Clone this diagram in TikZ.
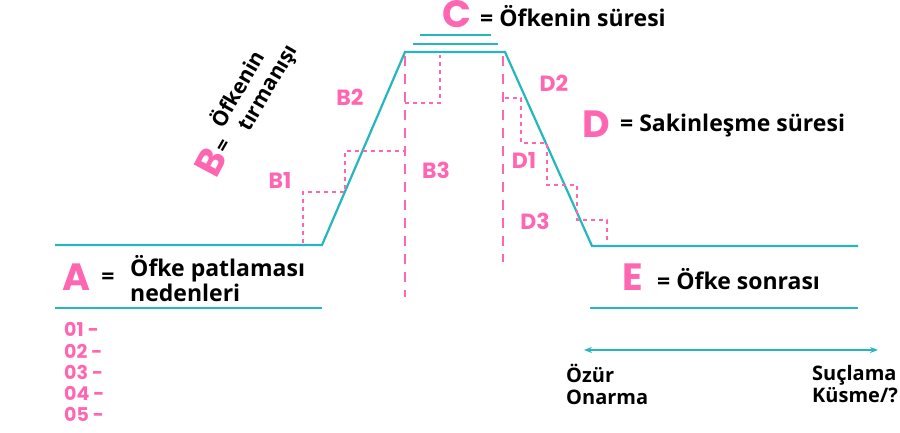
\documentclass[tikz,border=0pt]{standalone}
\usepackage{fontspec}
\setmainfont{Open Sans}
\newfontfamily\popfont[Numbers=OldStyle]{Poppins}
\usetikzlibrary{arrows.meta,positioning,calc}
\definecolor{teal}{RGB}{38,182,190}
\definecolor{hotpink}{RGB}{255,102,178}
\begin{document}
\begin{tikzpicture}[x=1pt,y=-1pt,
    curve/.style={draw=teal, line width=2.2pt},
    guide/.style={draw=hotpink, line width=2pt, dash pattern=on 10pt off 8pt},
    stair/.style={draw=hotpink, line width=2.2pt, dash pattern=on 4pt off 4pt},
    big/.style={text=hotpink, font=\popfont\bfseries\fontsize{38}{38}\selectfont, inner sep=0pt},
    tag/.style={text=hotpink, font=\popfont\bfseries\fontsize{22}{22}\selectfont, inner sep=0pt},
    txt/.style={font=\bfseries\fontsize{23}{25}\selectfont, inner sep=0pt, align=left},
    slant/.style={font=\bfseries\fontsize{21}{21}\selectfont, inner sep=0pt, rotate=60},
    low/.style={font=\bfseries\fontsize{20}{22}\selectfont, inner sep=0pt, align=left},
    num/.style={text=hotpink, font=\popfont\bfseries\fontsize{19}{19}\selectfont, inner sep=0pt, anchor=west}
]
\useasboundingbox (0,0) rectangle (900,432);

% curve of anger
\coordinate (s0) at (55,245);
\coordinate (s1) at (322,245);
\coordinate (s2) at (405,52);
\coordinate (s3) at (505,52);
\coordinate (s4) at (592,246);
\coordinate (s5) at (858,246);
\draw[curve] (s0) -- (s1) -- (s2) -- (s3) -- (s4) -- (s5);
\draw[curve] (420,35) -- (491,35);
\draw[curve] (413,44) -- (498,44);
\draw[curve] (55,308) -- (322,308);
\draw[curve] (590,308) -- (858,308);

% guides
\coordinate (g1) at (405,297);
\coordinate (g2) at (503,262);
\draw[guide] (405,56) -- (g1);
\draw[guide] (503,56) -- (g2);

% escalation steps
\draw[stair] (303,243) |- (345,192) |- (405,151);
\draw[stair] (405,103) -| (440,55);
% calming steps
\draw[stair] (505,98) -| (521,143) -| (547,185) -| (577,220) -| (607,243);

% labels
\node[big] (C) at (457,14) {C};
\node[txt, anchor=west] (Ct) at (480,16) {= Öfkenin süresi};
\node[big] (D) at (596,124) {D};
\node[txt, anchor=west] (Dt) at (620,126) {= Sakinleşme süresi};
\node[big] (A) at (77,277) {A};
\node[txt] (Aeq) at (108,279) {=};
\node[txt, anchor=west] (At) at (130,279) {Öfke patlaması\\nedenleri};
\node[big] (E) at (633,277) {E};
\node[txt, anchor=west] (Et) at (657,279) {= Öfke sonrası};

\node[big, rotate=62] (B) at (211,162) {B};
\node[slant] (Beq) at (225,147) {=};
\node[slant] (Bt1) at (236,88) {Öfkenin};
\node[slant] (Bt2) at (270,89) {tırmanışı};

\node[tag] (B1) at (280,180) {B1};
\node[tag] (B2) at (350,97) {B2};
\node[tag] (B3) at (436,170) {B3};
\node[tag] (D1) at (524,160) {D1};
\node[tag] (D2) at (554,83) {D2};
\node[tag] (D3) at (535,221) {D3};

% list
\foreach \i/\y in {1/329,2/351,3/372,4/393,5/414}
  \node[num] (n\i) at (64,\y) {0\i\ -};

% scale
\coordinate (l) at (584,350);
\coordinate (r) at (878,350);
\draw[teal, line width=1.8pt, {Stealth[length=8pt]}-{Stealth[length=8pt]}] (l) -- (r);
\node[low, anchor=west] (oz) at (566,384) {Özür\\Onarma};
\node[low, anchor=east] (su) at (898,384) {Suçlama\\Küsme/?};
\end{tikzpicture}
\end{document}
